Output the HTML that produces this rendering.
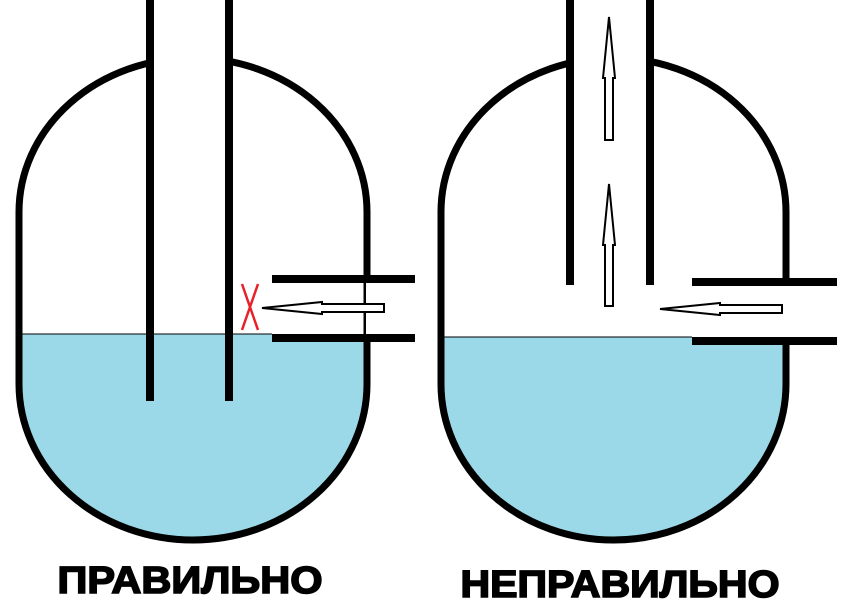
<!DOCTYPE html>
<html><head><meta charset="utf-8"><style>
html,body{margin:0;padding:0;background:#fff;width:853px;height:605px;overflow:hidden}
svg{display:block}
text{font-family:"Liberation Sans",sans-serif;font-weight:bold;fill:#000;stroke:#000;stroke-width:1.6}
</style></head><body>
<svg width="853" height="605" viewBox="0 0 853 605" xmlns="http://www.w3.org/2000/svg">
<defs>
<clipPath id="c1"><path d="M19 212 A174 154 0 0 1 367 212 L367 384 A174 156 0 0 1 19 384 Z"/></clipPath>
<clipPath id="c2"><path d="M441 212 A172.5 154 0 0 1 786 212 L786 384 A172.5 156 0 0 1 441 384 Z"/></clipPath>
</defs>
<!-- left vessel -->
<rect x="0" y="334" width="420" height="260" fill="#9bd9e8" clip-path="url(#c1)"/>
<line x1="19" y1="334" x2="367" y2="334" stroke="#000" stroke-width="1"/>
<rect x="272" y="282" width="100" height="52" fill="#fff"/>
<path d="M19 212 A174 154 0 0 1 367 212 L367 384 A174 156 0 0 1 19 384 Z" fill="none" stroke="#000" stroke-width="7"/>
<rect x="151" y="0" width="76" height="72" fill="#fff"/>
<rect x="366" y="283" width="10" height="52" fill="#fff"/>
<rect x="146" y="0" width="8" height="401" fill="#000"/>
<rect x="225" y="0" width="8" height="401" fill="#000"/>
<rect x="272" y="275" width="143" height="8" fill="#000"/>
<rect x="272" y="334" width="143" height="8" fill="#000"/>
<path d="M384 304 L322 304 L322 302 L262 308 L322 314 L322 312 L384 312 Z" fill="#fff" stroke="#000" stroke-width="2"/>
<path d="M242 284 L258 330 M258 284 L242 330" stroke="#e8202a" stroke-width="2.5"/>
<!-- right vessel -->
<rect x="430" y="337" width="370" height="260" fill="#9bd9e8" clip-path="url(#c2)"/>
<line x1="441" y1="337" x2="786" y2="337" stroke="#000" stroke-width="1"/>
<rect x="692" y="285" width="100" height="52" fill="#fff"/>
<path d="M441 212 A172.5 154 0 0 1 786 212 L786 384 A172.5 156 0 0 1 441 384 Z" fill="none" stroke="#000" stroke-width="7"/>
<rect x="570" y="0" width="79" height="72" fill="#fff"/>
<rect x="782" y="285" width="12" height="52" fill="#fff"/>
<rect x="566" y="0" width="8" height="285" fill="#000"/>
<rect x="646" y="0" width="8" height="285" fill="#000"/>
<rect x="692" y="278" width="145" height="8" fill="#000"/>
<rect x="692" y="337" width="145" height="8" fill="#000"/>
<path d="M782 305 L720 305 L720 303 L660 309 L720 315 L720 313 L782 313 Z" fill="#fff" stroke="#000" stroke-width="2"/>
<path d="M605 140 L605 78 L603 78 L609 17 L615 78 L613 78 L613 140 Z" fill="#fff" stroke="#000" stroke-width="2"/>
<path d="M605 306 L605 245 L603 245 L609 184 L615 245 L613 245 L613 306 Z" fill="#fff" stroke="#000" stroke-width="2"/>
<text x="190" y="593" font-size="38" text-anchor="middle" textLength="265" lengthAdjust="spacingAndGlyphs">ПРАВИЛЬНО</text>
<text x="620" y="597" font-size="38" text-anchor="middle" textLength="319" lengthAdjust="spacingAndGlyphs">НЕПРАВИЛЬНО</text>
</svg>
</body></html>
